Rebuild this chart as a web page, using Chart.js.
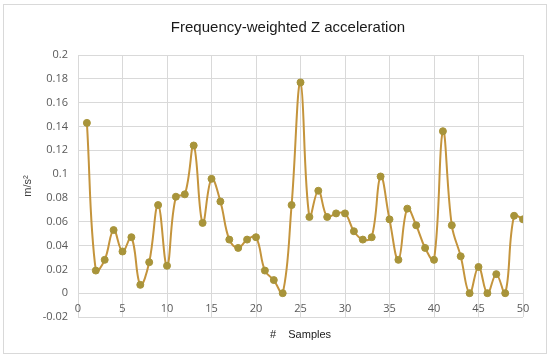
<!DOCTYPE html>
<html>
<head>
<meta charset="utf-8">
<script src="https://cdn.jsdelivr.net/npm/chart.js@4.4.1/dist/chart.umd.min.js"></script>
<style>
  body { margin: 0; background: #fff; }
  #wrap { position: relative; width: 550px; height: 358px; }
  #frame { position: absolute; left: 3px; top: 4px; width: 542px; height: 348px; border: 1px solid #d9d9d9; }
  canvas { position: absolute; left: 0; top: 0; }
</style>
</head>
<body>
<div id="wrap">
  <div id="frame"></div>
  <canvas id="lineChart" width="550" height="358"></canvas>
</div>
<script>
// sample numbers (x) and measured values (y, m/s²)
let samples = [1, 2, 3, 4, 5, 6, 7, 8, 9, 10,
    11, 12, 13, 14, 15, 16, 17, 18, 19, 20,
    21, 22, 23, 24, 25, 26, 27, 28, 29, 30,
    31, 32, 33, 34, 35, 36, 37, 38, 39, 40,
    41, 42, 43, 44, 45, 46, 47, 48, 49, 50];

let zAccel = [0.143, 0.019, 0.028, 0.053, 0.035, 0.047, 0.007, 0.026, 0.074, 0.023,
    0.081, 0.083, 0.124, 0.059, 0.096, 0.077, 0.045, 0.038, 0.045, 0.047,
    0.019, 0.011, 0.0, 0.074, 0.177, 0.064, 0.086, 0.064, 0.067, 0.067,
    0.052, 0.045, 0.047, 0.098, 0.062, 0.028, 0.071, 0.057, 0.038, 0.028,
    0.136, 0.057, 0.031, 0.0, 0.022, 0.0, 0.016, 0.0, 0.065, 0.062];

let xTicks = [0, 5, 10, 15, 20, 25, 30, 35, 40, 45, 50];
let yTicks = [-0.02, 0, 0.02, 0.04, 0.06, 0.08, 0.1, 0.12, 0.14, 0.16, 0.18, 0.2];

let points = [];
for (let i = 0; i < samples.length; i++) {
    points.push({ x: samples[i], y: zAccel[i] });
}

const line = document.getElementById("lineChart");

new Chart(line, {
    type: 'line',
    data: {
        datasets: [{
            data: points,
            borderColor: '#c4943c',
            borderWidth: 2,
            backgroundColor: '#a8943a',
            pointBackgroundColor: '#a8943a',
            pointBorderColor: '#a8943a',
            pointRadius: 3.5,
            pointBorderWidth: 1,
            tension: 0.4,
            fill: false
        }]
    },
    options: {
        responsive: false,
        animation: false,
        layout: {
            padding: { left: 0, right: 27, top: 0, bottom: 41 }
        },
        plugins: {
            legend: { display: false },
            tooltip: { enabled: false },
            title: {
                display: true,
                fullSize: false,
                // trailing spaces nudge the title a bit left of the plot centre
                text: 'Frequency-weighted Z acceleration      ',
                color: '#1a1a1a',
                font: { family: 'Liberation Sans', size: 15, weight: 'normal' },
                padding: { top: 19, bottom: 18 }
            }
        },
        scales: {
            x: {
                type: 'linear',
                position: { y: 0 }, // labels sit under the zero line, like excel
                min: xTicks[0],
                max: xTicks[xTicks.length - 1],
                afterBuildTicks: (scale) => { scale.ticks = xTicks.map(v => ({ value: v })); },
                grid: { color: '#d9d9d9', drawTicks: false },
                border: { display: false },
                ticks: {
                    color: '#595959',
                    padding: 9,
                    font: { family: 'Open Sans', size: 11 }
                },
                title: {
                    display: true,
                    text: '#    Samples',
                    color: '#1a1a1a',
                    font: { family: 'Liberation Sans', size: 11 },
                    padding: { top: 4, bottom: 0 }
                }
            },
            y: {
                min: yTicks[0],
                max: yTicks[yTicks.length - 1],
                afterBuildTicks: (scale) => { scale.ticks = yTicks.map(v => ({ value: v })); },
                afterFit: (scale) => { scale.width = 78; },
                grid: { color: '#d9d9d9', drawTicks: false },
                border: { display: false },
                ticks: {
                    color: '#595959',
                    padding: 10,
                    font: { family: 'Open Sans', size: 11 },
                    callback: (v) => String(parseFloat(v.toFixed(2)))
                },
                title: {
                    display: true,
                    text: 'm/s²',
                    color: '#404040',
                    font: { family: 'Liberation Sans', size: 11 },
                    padding: { top: 21, bottom: 0 }
                }
            }
        }
    }
});
</script>
</body>
</html>
